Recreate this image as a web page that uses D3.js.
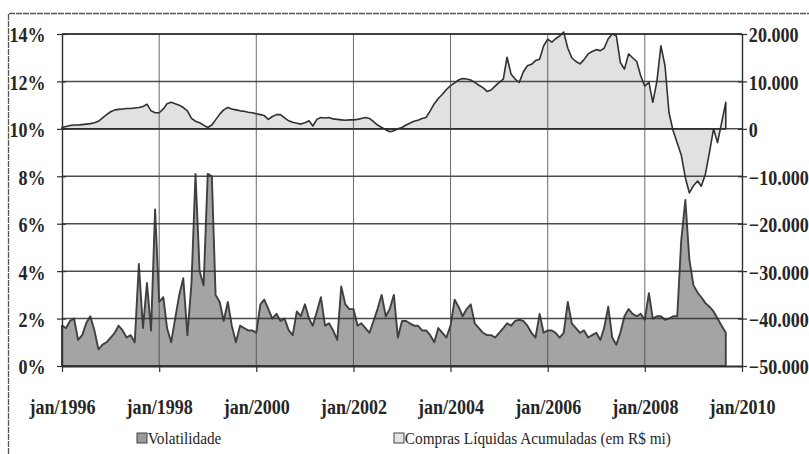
<!DOCTYPE html>
<html>
<head>
<meta charset="utf-8">
<script src="https://cdn.jsdelivr.net/npm/d3@7"></script>
<style>
  body { margin: 0; background: #fff; }
  svg { display: block; }
</style>
</head>
<body>
<div id="chart"></div>
<script>
// monthly values, jan/1996 .. set/2009
const volatilidade = [
  1.7, 1.6, 1.9, 2.0, 1.1, 1.3, 1.8, 2.1, 1.5, 0.7, 0.9, 1.0,   // 1996
  1.2, 1.4, 1.7, 1.5, 1.2, 1.3, 1.0, 4.3, 1.6, 3.5, 1.5, 6.6,   // 1997
  2.7, 2.9, 1.6, 1.0, 2.0, 3.0, 3.7, 1.3, 3.5, 8.1, 4.0, 3.4,   // 1998
  8.1, 8.0, 3.0, 2.7, 1.9, 2.7, 1.7, 1.0, 1.7, 1.6, 1.5, 1.5,   // 1999
  1.4, 2.6, 2.8, 2.4, 2.0, 2.2, 1.9, 2.0, 1.5, 1.3, 2.3, 2.1,   // 2000
  2.6, 2.0, 1.7, 2.3, 2.9, 1.7, 1.8, 1.5, 1.1, 3.35, 2.6, 2.4,  // 2001
  2.4, 1.7, 1.8, 1.6, 1.4, 1.9, 2.4, 3.0, 2.1, 2.4, 3.0, 1.2,   // 2002
  1.9, 1.9, 1.8, 1.7, 1.7, 1.5, 1.5, 1.3, 1.0, 1.6, 1.4, 1.2,   // 2003
  1.7, 2.8, 2.5, 2.1, 2.4, 2.6, 1.8, 1.6, 1.4, 1.3, 1.3, 1.2,   // 2004
  1.4, 1.6, 1.8, 1.7, 1.9, 1.95, 1.9, 1.7, 1.4, 1.2, 2.2, 1.4,  // 2005
  1.5, 1.5, 1.4, 1.2, 1.4, 2.7, 1.8, 1.6, 1.4, 1.5, 1.2, 1.3,   // 2006
  1.4, 1.1, 1.6, 2.5, 1.2, 0.9, 1.4, 2.1, 2.4, 2.2, 2.1, 2.2,   // 2007
  1.95, 3.07, 2.0, 2.1, 2.1, 1.95, 2.0, 2.1, 2.1, 5.3, 7.0, 4.5, // 2008
  3.4, 3.1, 2.9, 2.65, 2.5, 2.3, 2.0, 1.7, 1.4                  // 2009
];

// R$ mil milhões (eixo direito)
const comprasAcumuladas = [
  0.3, 0.5, 0.7, 0.8, 0.8, 0.9, 1.0, 1.1, 1.3, 1.6, 2.3, 3.0,
  3.6, 4.0, 4.1, 4.2, 4.3, 4.3, 4.4, 4.5, 4.7, 5.2, 3.8, 3.4,
  3.4, 4.2, 5.3, 5.6, 5.3, 5.0, 4.5, 3.8, 2.2, 1.6, 1.3, 0.8,
  0.3, 0.8, 1.9, 3.1, 4.0, 4.5, 4.2, 4.0, 3.8, 3.7, 3.5, 3.4,
  3.2, 3.0, 2.8, 2.0, 2.6, 3.0, 3.0, 2.3, 1.7, 1.4, 1.2, 1.0,
  1.3, 1.7, 0.6, 2.0, 2.4, 2.3, 2.4, 2.1, 2.0, 1.9, 1.8, 1.9,
  1.9, 2.0, 2.2, 2.4, 2.2, 1.5, 0.8, 0.3, -0.2, -0.6, -0.4, 0.0,
  0.3, 0.8, 1.2, 1.6, 1.8, 2.2, 2.4, 3.8, 5.3, 6.4, 7.3, 8.3,
  9.1, 9.7, 10.3, 10.6, 10.5, 10.3, 9.8, 9.2, 8.7, 7.9, 8.2, 9.0,
  9.8, 10.5, 15.1, 11.5, 10.5, 9.8, 12.0, 13.3, 13.6, 14.4, 14.7, 17.5,
  18.9, 18.3, 19.0, 19.6, 20.4, 17.0, 15.0, 14.2, 13.7, 14.6, 15.8, 16.3,
  16.7, 16.5, 17.0, 19.0, 20.0, 19.6, 14.0, 12.6, 15.8, 15.0, 14.2, 11.2,
  9.0, 9.8, 5.6, 10.0, 17.5, 13.3, 3.4, -0.4, -3.0, -5.5, -10.3, -13.5,
  -12.0, -11.0, -12.1, -9.5, -5.0, 0.0, -2.9, 1.3, 5.6
];

const leftTicks = [0, 2, 4, 6, 8, 10, 12, 14];
const rightTicks = [-50, -40, -30, -20, -10, 0, 10, 20];
const yearTicks = [1996, 1998, 2000, 2002, 2004, 2006, 2008, 2010];
const legendLabels = ["Volatilidade", "Compras Líquidas Acumuladas (em R$ mi)"];

const width = 809, height = 454;
const plot = { left: 62, right: 742, top: 34, bottom: 366 };

const svg = d3.select("#chart").append("svg")
    .attr("width", width)
    .attr("height", height);

const x = d3.scaleTime()
    .domain([new Date(1996, 0, 1), new Date(2010, 0, 1)])
    .range([plot.left, plot.right]);
const yLeft = d3.scaleLinear().domain([0, 14]).range([plot.bottom, plot.top]);
const yRight = d3.scaleLinear().domain([-50, 20]).range([plot.bottom, plot.top]);

const month = i => new Date(1996, i, 1);

// outer frame (only left and top are inside the picture)
svg.append("path")
    .attr("d", `M8.5,${height}V13.5H${width}`)
    .attr("fill", "none")
    .attr("stroke", "#555")
    .attr("stroke-width", 1.3)
    .attr("stroke-dasharray", "6,1");

// upper area: compras
const areaCompras = d3.area()
    .x((d, i) => x(month(i)))
    .y0(yRight(0))
    .y1(d => yRight(d));

svg.append("path")
    .datum(comprasAcumuladas)
    .attr("d", areaCompras)
    .attr("fill", "#e1e1e1")
    .attr("stroke", "#303030")
    .attr("stroke-width", 1.6)
    .attr("stroke-linejoin", "round");

// lower area: volatilidade
const areaVol = d3.area()
    .x((d, i) => x(month(i)))
    .y0(yLeft(0))
    .y1(d => yLeft(d));

svg.append("path")
    .datum(volatilidade)
    .attr("d", areaVol)
    .attr("fill", "#a4a4a4")
    .attr("stroke", "#404040")
    .attr("stroke-width", 1.9)
    .attr("stroke-linejoin", "round");

// grid
svg.append("g")
    .selectAll("line")
    .data(leftTicks.slice(1))
    .join("line")
    .attr("x1", plot.left).attr("x2", plot.right)
    .attr("y1", d => yLeft(d)).attr("y2", d => yLeft(d))
    .attr("stroke", "#2e2e2e")
    .attr("stroke-opacity", 0.85)
    .attr("stroke-width", 1.5);

svg.append("g")
    .selectAll("line")
    .data(yearTicks.slice(1, -1))
    .join("line")
    .attr("x1", d => x(new Date(d, 0, 1))).attr("x2", d => x(new Date(d, 0, 1)))
    .attr("y1", plot.top).attr("y2", plot.bottom)
    .attr("stroke", "#444")
    .attr("stroke-opacity", 0.8)
    .attr("stroke-width", 1);

const labelFont = g => g.selectAll("text")
    .attr("font-family", "'Liberation Serif', 'Times New Roman', serif")
    .attr("font-weight", "bold")
    .attr("font-size", 21)
    .attr("fill", "#262626");

// left axis
const gLeft = svg.append("g")
    .attr("transform", `translate(${plot.left},0)`)
    .call(d3.axisLeft(yLeft).tickValues(leftTicks).tickFormat(d => d + "%").tickSize(5).tickSizeOuter(0));
gLeft.call(labelFont);
gLeft.selectAll(".tick line").attr("x1", 4);
gLeft.selectAll(".tick text").attr("x", -19).attr("dy", "0.38em")
    .attr("transform", "scale(0.86,1)");

// right axis
const gRight = svg.append("g")
    .attr("transform", `translate(${plot.right},0)`)
    .call(d3.axisRight(yRight).tickValues(rightTicks).tickFormat(d => d3.format(",")(d * 1000).replace(/,/g, ".")).tickSize(5).tickSizeOuter(0));
gRight.call(labelFont);
gRight.selectAll(".tick line").attr("x1", -4);
gRight.selectAll(".tick text").attr("x", 8).attr("dy", "0.38em")
    .attr("transform", "scale(0.86,1)");

// bottom axis
const gBottom = svg.append("g")
    .attr("transform", `translate(0,${plot.bottom})`)
    .call(d3.axisBottom(x)
        .tickValues(yearTicks.map(yr => new Date(yr, 0, 1)))
        .tickFormat(d => "jan/" + d.getFullYear())
        .tickSize(6).tickSizeOuter(0));
gBottom.call(labelFont);
gBottom.selectAll(".tick text").attr("y", 48).attr("dy", 0)
    .attr("transform", "scale(0.86,1)");

[gLeft, gRight, gBottom].forEach(g => {
    g.select(".domain").attr("stroke", "#2e2e2e").attr("stroke-width", 1.4);
    g.selectAll(".tick line").attr("stroke", "#2e2e2e").attr("stroke-width", 1.2);
});
gBottom.select(".domain").attr("stroke-width", 2.2);

// top border of plot
svg.append("line")
    .attr("x1", plot.left).attr("x2", plot.right)
    .attr("y1", plot.top).attr("y2", plot.top)
    .attr("stroke", "#2e2e2e").attr("stroke-width", 1.4);

// legend
const legend = svg.append("g")
    .attr("font-family", "'Liberation Serif', 'Times New Roman', serif")
    .attr("font-size", 17)
    .attr("fill", "#262626");

const legendItems = [
    { label: legendLabels[0], x: 137, fill: "#9a9a9a" },
    { label: legendLabels[1], x: 394, fill: "#e4e4e4" }
];

const li = legend.selectAll("g")
    .data(legendItems)
    .join("g")
    .attr("transform", d => `translate(${d.x},433)`);
li.append("rect")
    .attr("width", 10).attr("height", 10)
    .attr("fill", d => d.fill)
    .attr("stroke", "#444").attr("stroke-width", 1);
li.append("text")
    .attr("x", 12).attr("y", 11)
    .attr("transform", "scale(0.9,1)")
    .text(d => d.label);
</script>
</body>
</html>
